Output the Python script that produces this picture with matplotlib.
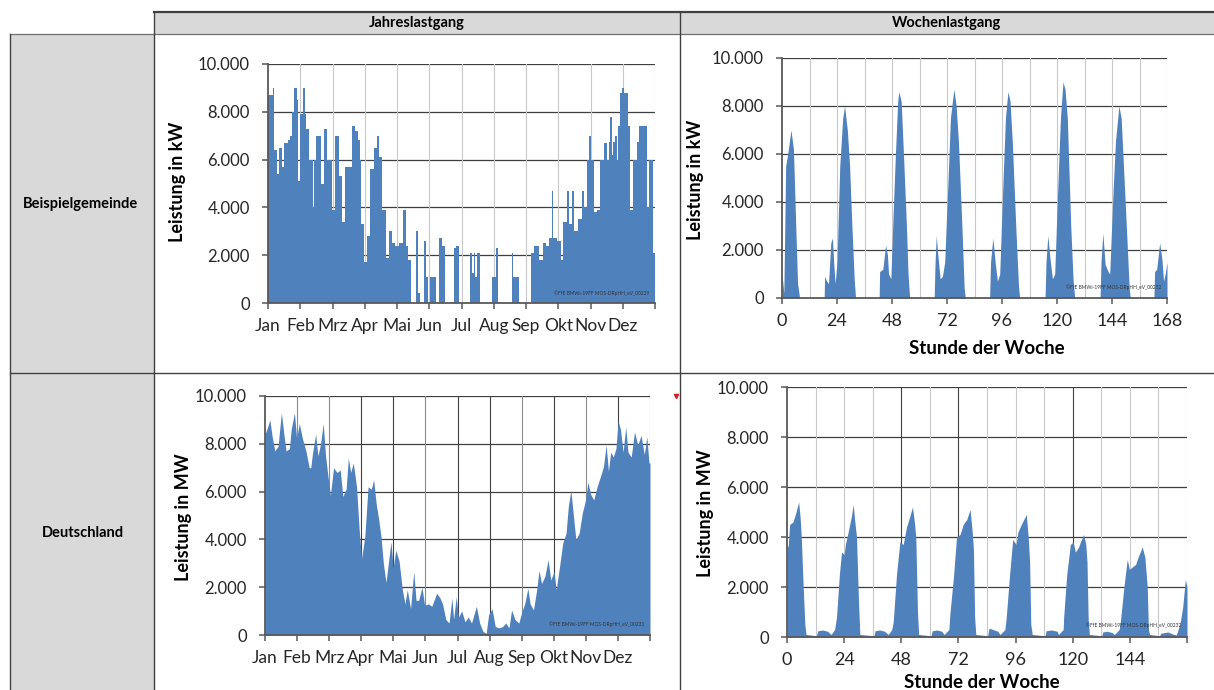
import matplotlib
matplotlib.use("Agg")
import matplotlib.pyplot as plt
from matplotlib.patches import Rectangle

plt.rcParams["font.family"] = ["Lato", "DejaVu Sans"]

W, H = 1214, 690
BLUE = "#4f81bd"
GRID_DARK = "#3f3f3f"
GRID_LIGHT = "#c8c8c8"
SPINE = "#595959"

months = ["Jan", "Feb", "Mrz", "Apr", "Mai", "Jun", "Jul", "Aug", "Sep", "Okt", "Nov", "Dez"]
week_ticks = [0, 24, 48, 72, 96, 120, 144, 168]
y_ticks = [0, 2000, 4000, 6000, 8000, 10000]

# Beispielgemeinde, Jahreslastgang (Tag des Jahres, kW)
gem_year_day = [0, 4.5, 6, 8.5, 10, 13, 14.7, 19.2, 20.8, 22.3, 24.8, 26.9, 28.4, 30, 33, 34.5, 36, 39,
                42.2, 43, 45.2, 48.3, 49.8, 52.9, 55.9, 60.5, 63.5, 66.6, 69.6, 72.7, 75.7, 78.8, 81.9,
                84.9, 86.4, 88, 91, 93.5, 96.5, 100.2, 102.6, 104.8, 107.8, 110.9, 114, 117, 120, 123.1,
                127.7, 130.1, 132.3, 134.4, 139.3, 141.5, 143.6, 146.7, 149.1, 150.7, 152.8, 158.3,
                161.3, 164.4, 167.4, 175.5, 177, 180.5, 190.3, 192.4, 193.9, 195.4, 197, 200, 211.2,
                215.5, 217, 230.5, 231.5, 237, 247.9, 251, 256, 259, 262, 265, 267.4, 268.5, 273, 276,
                278, 281.7, 283.5, 287, 288.5, 292, 296, 298.5, 301, 303, 305, 307.5, 310.5, 313.5,
                316.6, 319.7, 321.2, 322.7, 324.2, 325.8, 327.3, 328.8, 330.3, 331.9, 334.3, 336, 338.5,
                340, 341.6, 344.6, 347.7, 350, 354, 357.5, 359.5, 363, 365]
gem_year_kw = [8700, 9000, 6400, 5400, 6500, 5700, 6700, 6800, 7000, 8000, 9000, 8500, 5100, 7900, 9000,
               7900, 7300, 6000, 4000, 6000, 7000, 7000, 5000, 7300, 6000, 3900, 7000, 5300, 3400, 5700,
               5700, 7400, 7200, 6800, 6000, 3300, 1700, 2800, 5600, 6500, 7000, 6100, 3900, 1900, 3000,
               2500, 2400, 2500, 3900, 2400, 1800, 0, 3000, 400, 0, 2600, 1100, 0, 1100, 0,
               2700, 2400, 0, 2300, 2400, 0, 2100, 1240, 2100, 1100, 2100, 0, 1100,
               2300, 0, 2100, 1100, 0, 2100, 2400, 1800, 2500, 2400, 2700, 4700, 2700, 2600, 1800,
               3400, 4700, 3300, 4700, 3000, 3500, 4700, 4000, 6000, 7000, 6000, 3800, 3900, 6000,
               6700, 6000, 6750, 7800, 6200, 6750, 7000, 6000, 7400, 8800, 9000, 8800, 8800,
               7400, 3900, 6000, 6750, 7400, 7400, 4000, 6000, 2100, 2100]

# Beispielgemeinde, Wochenlastgang (Stunde, kW)
gem_week_hour = [0, 0.8, 1.6, 2.5, 3.9, 5, 6, 6.8, 7.7, 18.4, 18.6, 19.5, 20.3, 21.3, 22, 22.6, 23.2, 24,
                 25.2, 26.5, 27.3, 28.5, 29.5, 30.5, 31.5, 32.1, 42.4, 42.6, 44, 45.2, 46, 46.5, 47.5,
                 48.5, 49.5, 50.5, 51, 52, 53, 54.3, 55, 55.7, 66.4, 66.8, 67.3, 68, 69, 70, 71, 72.5,
                 73.5, 75, 76, 77, 78.5, 79.5, 80, 90.6, 91, 92, 93, 94, 95, 96.5, 97.5, 98.6, 99.5,
                 100.5, 102, 103.2, 103.7, 114.8, 115.2, 116, 117, 118, 119, 120.5, 121.5, 122.6, 123.5,
                 124.5, 126, 127, 127.7, 138.8, 139.2, 140, 141, 142.3, 143, 144.5, 145.5, 147, 148, 149,
                 150.5, 151.5, 152, 162.3, 162.6, 163.5, 164.8, 165.8, 166.5, 167.2, 168]
gem_week_kw = [1000, 200, 5500, 6000, 7000, 6200, 3000, 600, 0, 0, 900, 700, 600, 2300, 2500, 1400, 600, 1500,
               5500, 7500, 8000, 7000, 5500, 3000, 800, 0, 0, 1100, 1200, 2200, 1800, 1000, 800,
               3500, 6000, 8200, 8600, 8200, 6000, 3000, 1000, 0, 0, 1500, 2600, 1800, 800, 900, 1500, 5000,
               7500, 8700, 8000, 6500, 3000, 400, 0, 0, 1500, 2500, 1500, 700, 1000, 5000, 7500, 8600, 8200,
               6500, 3000, 500, 0, 0, 1500, 2600, 1600, 800, 1000, 5000, 7500, 9000, 8700,
               7500, 3000, 800, 0, 0, 1500, 2700, 1400, 1100, 1000, 4500, 6500, 8000, 7500, 5500,
               2500, 400, 0, 0, 1100, 1200, 2300, 1600, 700, 1000, 1500]

# Deutschland, Jahreslastgang (Tag des Jahres, MW)
de_year_day = [0, 2.5, 4.6, 6.8, 9.3, 12.4, 15.5, 17.9, 20, 23.2, 24.8, 27.9, 30, 32.5, 35.6, 38.8, 41.9,
               43.4, 45, 48, 50.2, 52.7, 55.2, 57.4, 59.8, 62, 65, 68.2, 71.3, 73.8, 76.9, 79, 81.2,
               83.7, 86.8, 89.3, 91.5, 94.6, 97.7, 100.8, 103, 105.4, 107.9, 110, 112.2, 114.7, 117.2,
               119.4, 121.5, 124, 127.1, 130.2, 132.7, 134.9, 138, 141, 143.2, 145.7, 148.8, 151.3,
               155, 158.1, 162.8, 165.9, 168.3, 171.4, 174.5, 177.2, 178.8, 181.3, 183.4, 186.5, 189.6,
               192.7, 195.8, 200.4, 203.5, 206.6, 209.7, 212, 215.2, 218.3, 222, 225.1, 228.2, 231.3,
               233.8, 236.9, 240.6, 243.7, 246.2, 249.2, 251.4, 254.5, 257.6, 259.8, 262.2, 265.3,
               268.4, 270.9, 274, 276.1, 279.2, 282.3, 285.4, 287.6, 290, 292.5, 294.7, 297.8, 300.8,
               303.9, 306.1, 308.6, 311.7, 314.8, 317.8, 320.9, 323.4, 325.6, 327.7, 330.2, 332.7,
               334.8, 337, 339.5, 342, 344.1, 347.2, 350.3, 353.4, 356.5, 359.6, 362, 364, 365]
de_year_mw = [8400, 8700, 9000, 8300, 7700, 7900, 9300, 8400, 7700, 7800, 8600, 9300, 8200, 8850, 8200, 7700,
              7000, 7000, 7600, 8400, 7500, 8000, 8850, 7500, 6600, 5850, 7000, 6800, 6900, 5800, 6100,
              7400, 6800, 7200, 6200, 4400, 3200, 4100, 6200, 6100, 6500, 5500, 4800, 4100, 3000, 2200,
              3100, 3900, 2800, 3550, 3100, 1900, 1300, 1900, 1100, 2650, 1450, 1450, 2000, 1250,
              1300, 1200, 1750, 1550, 1300, 650, 500, 1550, 650, 1600, 750, 1000, 550,
              750, 500, 1200, 500, 150, 70, 850, 1100, 350, 300, 350, 500, 300,
              1050, 650, 500, 1000, 1300, 1950, 1300, 1050, 1900, 2700, 2150, 2450,
              3150, 2300, 2650, 1900, 2850, 3850, 4250, 5400, 6050, 4950, 4000, 4250, 5100,
              5650, 6400, 5900, 5650, 6200, 6600, 7050, 7950, 6850, 7650, 7450, 7800,
              8950, 8600, 7650, 8700, 7650, 7450, 8500, 7950, 8350, 7550, 8300, 7200, 7200]

# Deutschland, Wochenlastgang (Stunde, MW)
de_week_hour = [0, 0.5, 1.1, 2.5, 3.5, 4.9, 5.5, 6, 6.8, 7.5, 8, 12.3, 13, 15, 17, 18.5, 20, 20.8, 22, 22.9,
                24, 24.5, 25.7, 27, 27.8, 28.5, 29.2, 30, 30.6, 36.5, 37, 39, 41, 42.5, 44, 44.6, 46, 47.4,
                48.8, 50.2, 51.5, 52.7, 53.5, 54.1, 54.8, 55.3, 60.5, 61, 63, 65, 66, 68, 68.4, 70, 71.2,
                72.7, 74, 75.5, 76.9, 77.8, 78.3, 78.8, 79.3, 84.3, 84.8, 86.5, 88.5, 89.5, 91.5, 92, 93.5,
                94.8, 96.2, 97, 98.4, 100.5, 101.3, 101.9, 102.4, 103, 108.4, 108.8, 111, 113.5, 114, 116,
                116.2, 117.5, 119, 120.2, 121.1, 122.5, 123.2, 124.6, 125.5, 126, 126.5, 127, 132.2, 132.6,
                134.5, 136.5, 137.5, 139.5, 140, 141.5, 142.9, 143.8, 145, 146.4, 147.5, 149.2, 150.3,
                151.3, 151.8, 152.3, 156.5, 157, 160, 162, 163.5, 165, 166.2, 167.3, 168]
de_week_mw = [3700, 3600, 4500, 4600, 4900, 5400, 4800, 4000, 2000, 500, 100, 50, 250, 280, 230, 100, 300, 800,
              2500, 3400, 3300, 3700, 4200, 4800, 5300, 4600, 4000, 1500, 100, 50, 250, 280, 230, 100, 300,
              600, 2500, 3800, 3700, 4400, 4800, 5200, 4600, 4000, 1000, 100, 50, 250, 280, 230, 100, 300,
              900, 2500, 4000, 4100, 4500, 4700, 5100, 4200, 3500, 800, 100, 50, 350, 300, 230, 100, 300,
              700, 2500, 3900, 3700, 4200, 4500, 4900, 4000, 3000, 500, 100, 50, 250, 280, 230, 100, 300,
              800, 2500, 3700, 3800, 3400, 3600, 3800, 4100, 3700, 3000, 700, 100, 50, 200, 230, 180, 100,
              300, 600, 2000, 3100, 2700, 2800, 2900, 3200, 3600, 3200, 2000, 300, 100, 50, 150, 200, 120,
              80, 500, 1200, 2300, 2000]


def de_fmt(v):
    return f"{int(v):,}".replace(",", ".")


fig = plt.figure(figsize=(W / 100, H / 100), dpi=100)

# table background in pixel coordinates
bg = fig.add_axes([0, 0, 1, 1])
bg.set_xlim(0, W)
bg.set_ylim(H, 0)
bg.axis("off")
bg.add_patch(Rectangle((154, 12), W - 154, 22, fc="#d9d9d9", ec="none"))
bg.add_patch(Rectangle((10, 34), 144, H - 34, fc="#d9d9d9", ec="none"))
lc = "#404040"
bg.plot([154, W], [12, 12], color=lc, lw=1.6)
bg.plot([10, W], [34, 34], color="#707070", lw=0.9)
bg.plot([10, 10], [34, H], color=lc, lw=1.0)
bg.plot([154, 154], [12, H], color=lc, lw=1.0)
bg.plot([680, 680], [12, H], color=lc, lw=1.0)
bg.plot([10, W], [373, 373], color=lc, lw=1.0)
bg.text(417, 23, "Jahreslastgang", ha="center", va="center", fontsize=10.5, fontweight="bold")
bg.text(947, 23, "Wochenlastgang", ha="center", va="center", fontsize=10.5, fontweight="bold")
bg.text(81, 204, "Beispielgemeinde", ha="center", va="center", fontsize=10.5, fontweight="bold")
bg.text(83, 533, "Deutschland", ha="center", va="center", fontsize=10.5, fontweight="bold")
bg.plot([676], [396], marker="v", color="#d02020", ms=3)


def make_axes(x0, y0, x1, y1):
    ax = fig.add_axes([x0 / W, 1 - y1 / H, (x1 - x0) / W, (y1 - y0) / H])
    ax.set_ylim(0, 10000)
    ax.set_yticks(y_ticks)
    ax.set_yticklabels([de_fmt(v) for v in y_ticks], fontsize=12, color="#262626")
    for s in ["top", "right"]:
        ax.spines[s].set_visible(False)
    for s in ["left", "bottom"]:
        ax.spines[s].set_color(SPINE)
        ax.spines[s].set_linewidth(1.3)
    ax.tick_params(axis="both", direction="out", length=4, width=1.1, color=SPINE)
    ax.tick_params(axis="y", pad=9)
    ax.tick_params(axis="x", pad=7, labelsize=13, labelcolor="#262626")
    for v in y_ticks[1:]:
        ax.axhline(v, color=GRID_DARK, lw=0.9, zorder=0.5)
    return ax


def year_axis(ax, dark):
    ax.set_xlim(0, 365)
    pos = [i * 365 / 12 for i in range(12)]
    ax.set_xticks(pos + [365])
    ax.set_xticklabels(months + [""], fontsize=12.5)
    for i, p in enumerate(pos[1:] + [365]):
        col = GRID_LIGHT
        if dark is not None:
            col = "#404040" if dark[i] else "#8c8c8c"
        ax.axvline(p, color=col, lw=0.8, zorder=0.5)


def week_axis(ax, labels, dark):
    ax.set_xlim(0, 168)
    ax.set_xticks(week_ticks)
    ax.set_xticklabels(labels)
    for h in range(12, 169, 12):
        col = "#404040" if h in dark else GRID_LIGHT
        ax.axvline(h, color=col, lw=0.8, zorder=0.5)


# Beispielgemeinde Jahr
ax1 = make_axes(268, 64, 655, 303)
year_axis(ax1, None)
ax1.fill_between(gem_year_day, gem_year_kw, step="post", color=BLUE, lw=0, zorder=2)
ax1.text(0.985, 0.03, "©FfE BMWi-19FF MOS-DRpHH_eV_00229", transform=ax1.transAxes,
         ha="right", va="bottom", fontsize=3.5, color="#333333", zorder=3)

# Beispielgemeinde Woche
ax2 = make_axes(782, 58, 1167, 298)
week_axis(ax2, [str(t) for t in week_ticks], [])
ax2.fill_between(gem_week_hour, gem_week_kw, color=BLUE, lw=0, zorder=2)
ax2.text(0.985, 0.035, "©FfE BMWi-19FF MOS-DRpHH_eV_00232", transform=ax2.transAxes,
         ha="right", va="bottom", fontsize=3.5, color="#333333", zorder=3)

# Deutschland Jahr
ax3 = make_axes(265, 396, 650, 635)
year_axis(ax3, [False, False, True, True, False, True, True, False, True, False, True, False])
ax3.fill_between(de_year_day, de_year_mw, color=BLUE, lw=0, zorder=2)
ax3.text(0.985, 0.035, "©FfE BMWi-19FF MOS-DRpHH_eV_00231", transform=ax3.transAxes,
         ha="right", va="bottom", fontsize=3.5, color="#333333", zorder=3)

# Deutschland Woche
ax4 = make_axes(787, 387, 1187, 637)
week_axis(ax4, [str(t) for t in week_ticks[:-1]] + [""], [48, 72, 120])
ax4.fill_between(de_week_hour, de_week_mw, color=BLUE, lw=0, zorder=2)
ax4.text(0.985, 0.035, "©FfE BMWi-19FF MOS-DRpHH_eV_00232", transform=ax4.transAxes,
         ha="right", va="bottom", fontsize=3.5, color="#333333", zorder=3)

# axis titles
bg.text(178, 182, "Leistung in kW", rotation=90, ha="center", va="center", fontsize=13, fontweight="bold")
bg.text(696, 180, "Leistung in kW", rotation=90, ha="center", va="center", fontsize=13, fontweight="bold")
bg.text(183, 517, "Leistung in MW", rotation=90, ha="center", va="center", fontsize=13, fontweight="bold")
bg.text(706, 513, "Leistung in MW", rotation=90, ha="center", va="center", fontsize=13, fontweight="bold")
bg.text(987, 349, "Stunde der Woche", ha="center", va="center", fontsize=13.5, fontweight="bold")
bg.text(982, 682, "Stunde der Woche", ha="center", va="center", fontsize=13.5, fontweight="bold")

fig.savefig("out.png", dpi=100)
